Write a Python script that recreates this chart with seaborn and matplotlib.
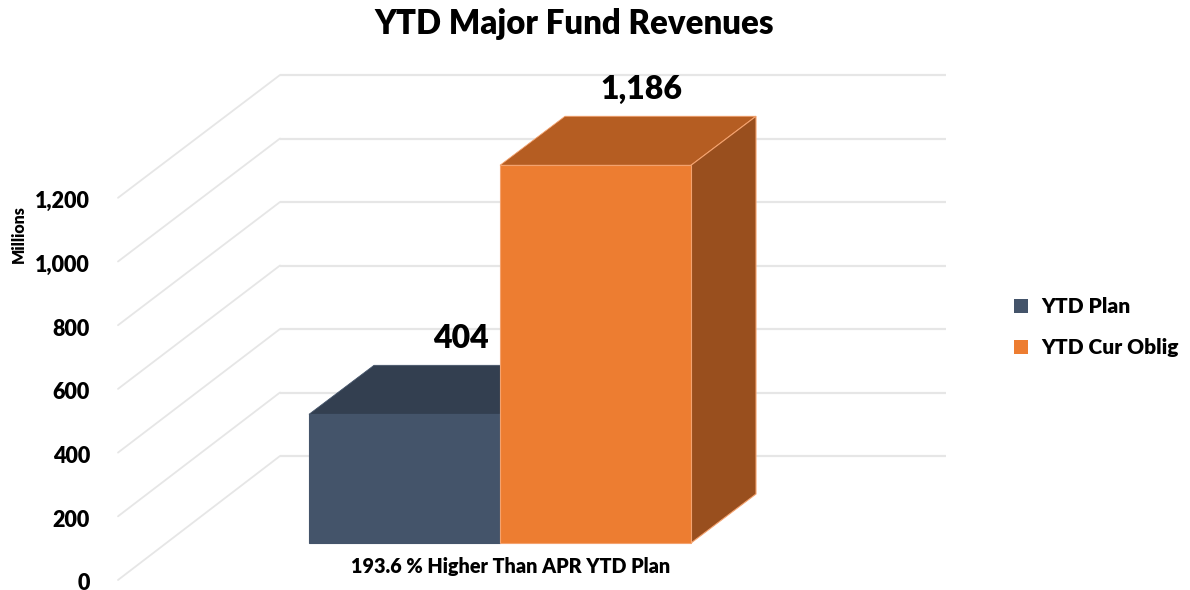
import pandas as pd
import seaborn as sns
import matplotlib.pyplot as plt
from matplotlib.patches import Patch, Polygon
from matplotlib.transforms import Affine2D

# values
categories = ["YTD Plan", "YTD Cur Oblig"]
values = [404, 1186]
value_labels = ["404", "1,186"]
y_ticks = [0, 200, 400, 600, 800, 1000, 1200]
y_tick_labels = ["0", "200", "400", "600", "800", "1,000", "1,200"]
title = "YTD Major Fund Revenues"
y_label = "Millions"
x_label = "193.6 % Higher Than APR YTD Plan"

front_colors = ["#44546A", "#ED7D31"]
top_colors = ["#333F50", "#B55D22"]
side_colors = ["#2A3442", "#994F1E"]
edge_colors = ["#44546A", "#F4A26E"]
grid_color = "#E6E6E6"

df = pd.DataFrame({"Category": categories, "Value": values})

sns.set_theme(style="white")
plt.rcParams["font.family"] = ["Lato", "DejaVu Sans"]
plt.rcParams["font.weight"] = "heavy"

fig = plt.figure(figsize=(11.9, 5.9), dpi=100)
ax = fig.add_axes([0, 0, 1, 1])
sns.barplot(x="Category", y="Value", data=df, hue="Category", palette=front_colors,
            width=1, legend=False, saturation=1, ax=ax, zorder=3)

# pixel layout of the chart: x=0 centre at 404.5, bar width 191, value 0 at 543
px_per_unit = 0.3185
ax.set_xlim(-404.5 / 191, (1190 - 404.5) / 191)
ax.set_ylim((543 - 590) / px_per_unit, 543 / px_per_unit)
ax.axis("off")


def shifted(dx, dy):
    # data coords moved by some pixels, for the fake 3D depth
    return ax.transData + Affine2D().translate(dx, -dy)


def px_x(px):
    return (px - 404.5) / 191


# side wall and back wall grid
for tick in y_ticks:
    ax.hlines(tick, px_x(280), px_x(946), color=grid_color, lw=1.6,
              transform=shifted(0, -87 + tick * (px_per_unit - 0.3175)), zorder=1)
    back = shifted(0, -87 + tick * (px_per_unit - 0.3175)).transform((px_x(280), tick))
    front = shifted(0, 37).transform((px_x(118), tick))
    ax.plot([back[0], front[0]], [back[1], front[1]], color=grid_color, lw=1.3,
            transform=None, zorder=1)

# depth faces of the bars
depth_x = 65
depth_y = 49
for i, bar in enumerate(ax.patches):
    x0, x1 = bar.get_x(), bar.get_x() + bar.get_width()
    h = bar.get_height()
    bar.set_edgecolor(edge_colors[i])
    bar.set_linewidth(0.8)
    bar.set_zorder(4 + 2 * i)
    base = ax.transData.transform([(x0, 0), (x1, 0), (x1, h), (x0, h)])
    bl, br, tr, tl = base
    top = [tl, tr, tr + (depth_x, depth_y), tl + (depth_x, depth_y)]
    side = [br, tr, tr + (depth_x, depth_y), br + (depth_x, depth_y)]
    ax.add_patch(Polygon(top, closed=True, transform=None, facecolor=top_colors[i],
                         edgecolor=edge_colors[i], lw=0.6, zorder=3 + 2 * i))
    ax.add_patch(Polygon(side, closed=True, transform=None, facecolor=side_colors[i],
                         edgecolor=edge_colors[i], lw=0.8, zorder=3 + 2 * i))

# tick labels sit on the front edge of the side wall
for tick, lab in zip(y_ticks, y_tick_labels):
    ax.text(px_x(90), tick, lab, transform=shifted(0, 41),
            ha="right", va="center", fontsize=15.5, color="black")

# value labels above the bars
label_dx = [56, 46]
for i, bar in enumerate(ax.patches[:2]):
    ax.text(bar.get_x() + bar.get_width() / 2, bar.get_height(), value_labels[i],
            transform=shifted(label_dx[i], -(depth_y + 27)),
            ha="center", va="center", fontsize=23, color="black", zorder=9)

fig.text(574 / 1190, 1 - 24 / 590, title, ha="center", va="center", fontsize=23.7, color="black")
fig.text(19 / 1190, 1 - 234 / 590, y_label, rotation=90, ha="center", va="center",
         fontsize=11.5, color="black")
fig.text(511 / 1190, 1 - 566 / 590, x_label, ha="center", va="center", fontsize=14.2, color="black")

handles = [Patch(facecolor=c, edgecolor="none", label=n) for c, n in zip(front_colors, categories)]
ax.legend(handles=handles, loc="center left", bbox_to_anchor=(1014 / 1190 - 0.0, 1 - 327 / 590),
          frameon=False, fontsize=15, handlelength=0.67, handleheight=0.67,
          handletextpad=0.65, labelspacing=1.05, borderpad=0, borderaxespad=0,
          labelcolor="black")

plt.savefig("out.png", dpi=100)
